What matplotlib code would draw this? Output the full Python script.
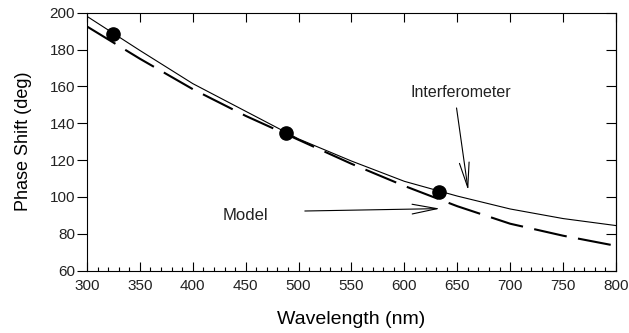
import matplotlib
matplotlib.use("Agg")
import matplotlib.pyplot as plt
from matplotlib.ticker import MultipleLocator

plt.rcParams['font.family'] = ['Liberation Sans', 'DejaVu Sans']

# values
wavelength = [300, 350, 400, 450, 500, 550, 600, 650, 700, 750, 800]
interferometer = [198, 179.5, 161.5, 146.5, 131.5, 119.5, 108.5, 100.5, 93.5, 88.3, 84.5]
model = [192.5, 175, 158.5, 144, 131, 118, 106, 95, 85.5, 79, 73.5]
meas_wl = [325, 488, 633]
meas_phase = [188.5, 134.5, 102.5]

fig = plt.figure(figsize=(6.29, 3.33), dpi=100)
ax = fig.add_axes([0.1383, 0.187, 0.841, 0.775])

ax.plot(wavelength, interferometer, color='black', lw=0.8)
ax.plot(wavelength, model, color='black', lw=1.5, dashes=(16, 5.5))
ax.plot(meas_wl, meas_phase, 'o', color='black', ms=9.5)

ax.set_xlim(300, 800)
ax.set_ylim(60, 200)
ax.xaxis.set_major_locator(MultipleLocator(50))
ax.xaxis.set_minor_locator(MultipleLocator(10))
ax.yaxis.set_major_locator(MultipleLocator(20))

for s in ax.spines.values():
    s.set_linewidth(0.8)

ax.tick_params(axis='x', which='both', direction='in', top=True, width=0.8,
               labelsize=11, pad=6, labelcolor='#222222')
ax.tick_params(axis='x', which='major', length=6.5)
ax.tick_params(axis='x', which='minor', length=3, top=False)
ax.tick_params(axis='y', which='major', direction='out', length=7, width=0.8,
               labelsize=11, pad=1.5, labelcolor='#222222')

sec = ax.secondary_yaxis('right')
sec.yaxis.set_major_locator(MultipleLocator(20))
sec.tick_params(direction='in', length=7, width=0.8, labelright=False)

ax.set_xlabel('Wavelength (nm)', fontsize=14, labelpad=13)
ax.set_ylabel('Phase Shift (deg)', fontsize=13, labelpad=13)

arrow = dict(arrowstyle='->,head_length=1.8,head_width=0.35', lw=0.8,
             color='black', shrinkA=0, shrinkB=0, mutation_scale=10)
ax.annotate('', xy=(660.3, 103.6), xytext=(649.3, 148.3), arrowprops=arrow)
ax.text(653.8, 156.6, 'Interferometer', fontsize=11.5, ha='center', va='center',
        color='#222222')
ax.annotate('', xy=(633.7, 93.7), xytext=(505.9, 92.4), arrowprops=arrow)
ax.text(450, 89.7, 'Model', fontsize=12, ha='center', va='center',
        color='#222222')

fig.savefig('out.png', dpi=100)
